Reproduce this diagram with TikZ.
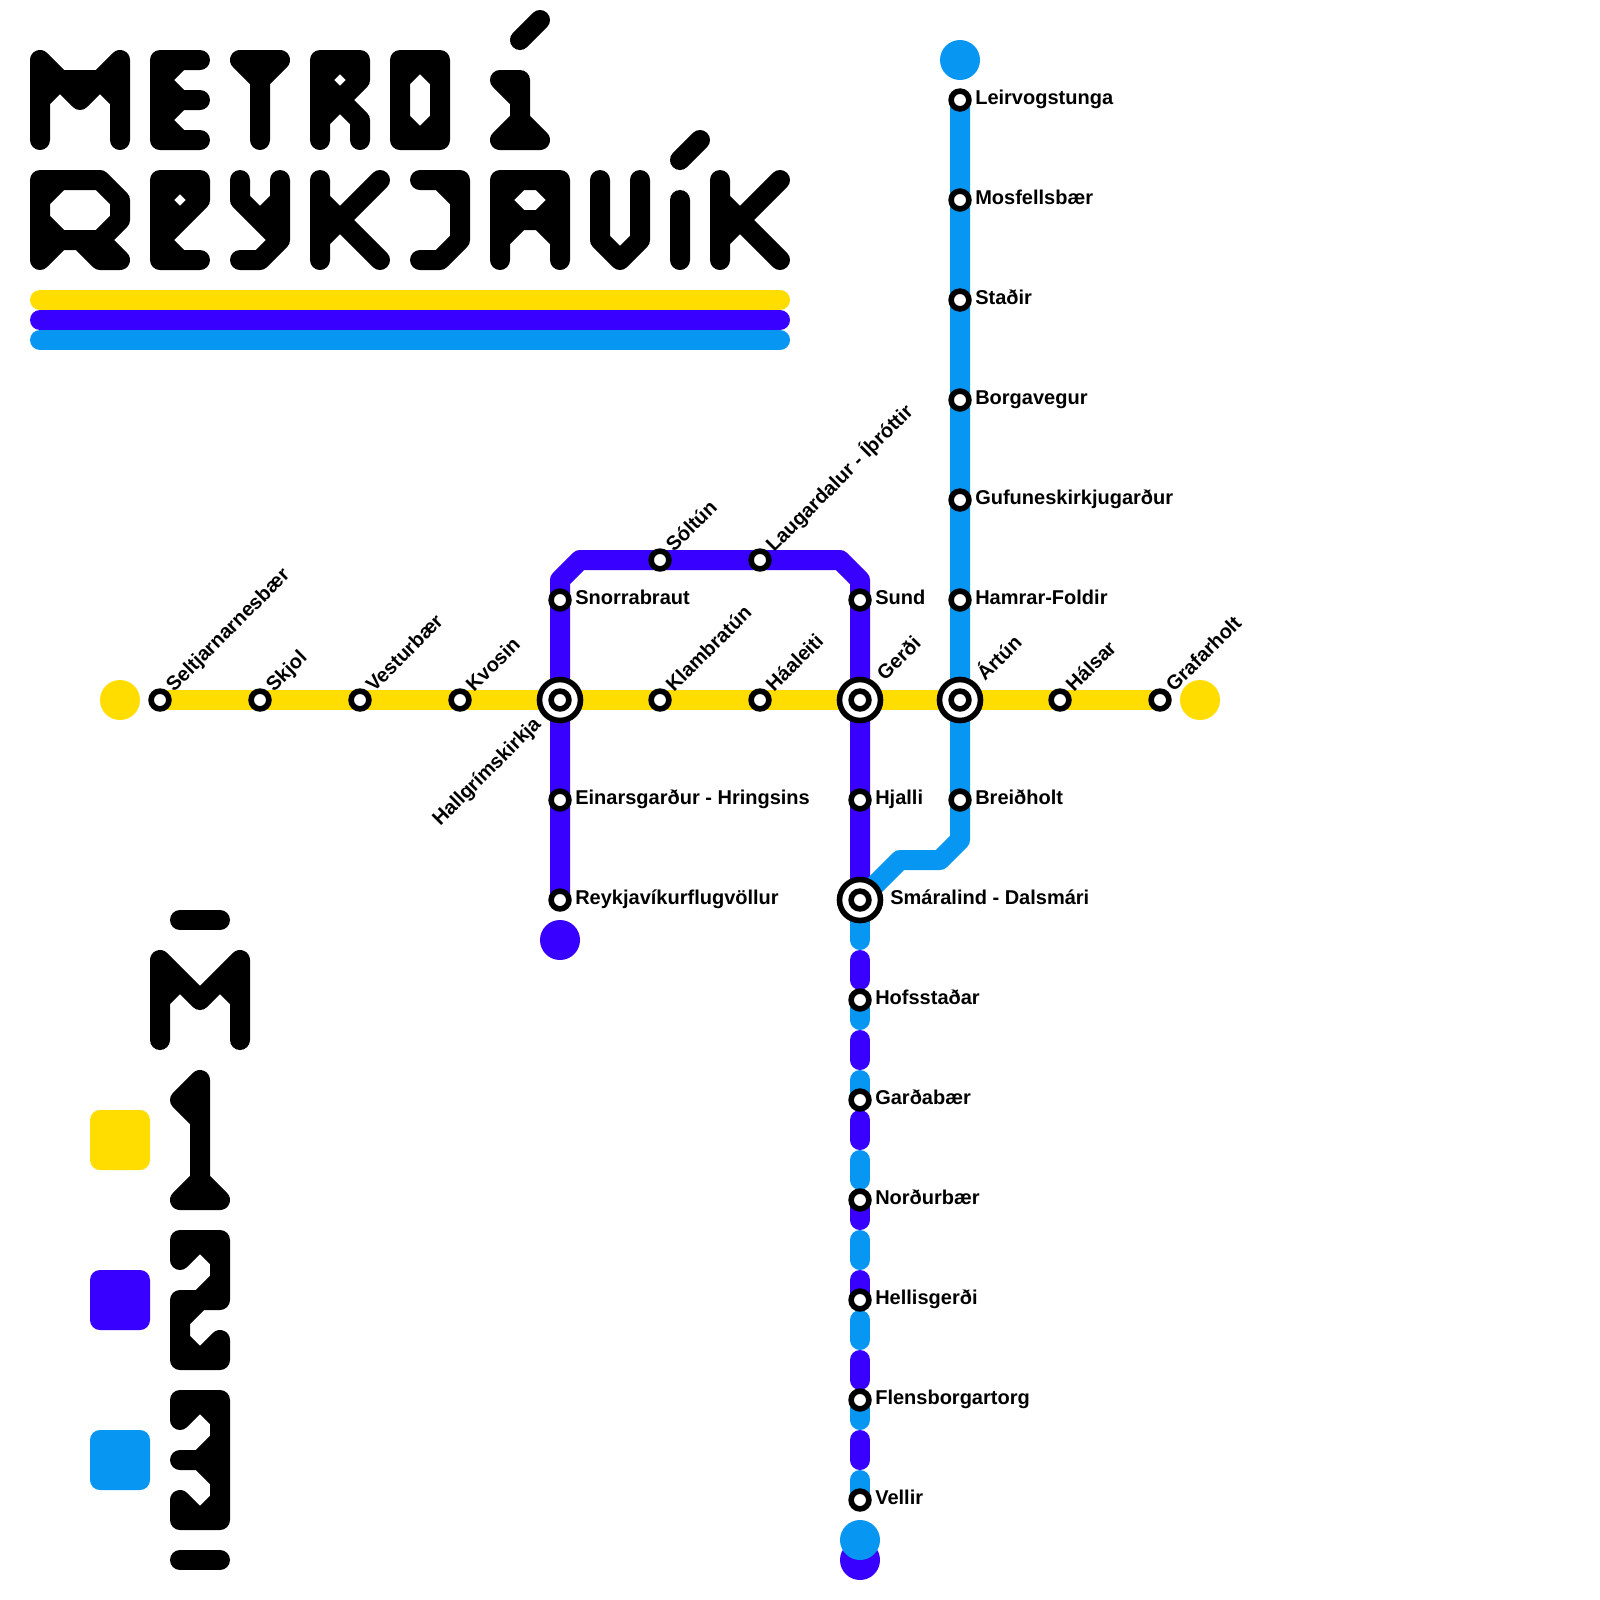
\documentclass[tikz,border=0pt]{standalone}
\usepackage{fontspec}
\usepackage{xcolor}
\usepackage{tikz}
\usetikzlibrary{backgrounds}
\setmainfont{Liberation Sans}
\definecolor{lineone}{HTML}{FFDD00}
\definecolor{linetwo}{HTML}{3700FF}
\definecolor{linethree}{HTML}{0797F2}

\begin{document}
\begin{tikzpicture}[x=5mm,y=-5mm]
  \tikzstyle{glyph} = [draw, line width=5mm, line cap=round, line join=round]
  \tikzstyle{track} = [draw, line width=5mm, line cap=round, line join=round]
  \tikzstyle{stop} = [circle, draw, fill=white, line width=1.4mm, inner sep=0pt, minimum size=4.45mm]
  \tikzstyle{hub} = [circle, draw, fill=white, line width=1.4mm, inner sep=0pt, minimum size=10.25mm]
  \tikzstyle{terminus} = [circle, inner sep=0pt, minimum size=10mm]
  \tikzstyle{swatch} = [rectangle, rounded corners=2.5mm, inner sep=0pt, minimum size=15mm]
  \tikzstyle{stopname} = [font=\fontsize{14.23}{17}\selectfont\bfseries, inner sep=0pt, anchor=base west]
  \tikzstyle{slantname} = [stopname, rotate=45]

  \useasboundingbox (0,0) rectangle (80,80);

  % Title, first row
  \draw[glyph] (2,7) -- (2,3) -- (4,5) -- (6,3) -- (6,7) (2,5) -- (3,4) -- (5,4) -- (6,5) (3,4) -- (4,5) -- (5,4);
  \draw[glyph] (10,3) -- (9,3) -- (8,4) -- (9,5) -- (10,5) -- (9,5) -- (8,6) -- (9,7) -- (10,7) -- (8,7) -- (8,3) -- (10,3);
  \draw[glyph] (13,7) -- (13,4) -- (12,3) -- (14,3) -- (13,4);
  \draw[glyph] (16,7) -- (16,3) -- (18,3) -- (18,4) -- (17,5) -- (18,6) -- (18,7) (16,6) -- (17,5) -- (16,4) -- (17,3) -- (18,4);
  \draw[glyph] (20,3) -- (22,3) -- (22,7) -- (20,7) -- cycle (21,3) -- (22,4) (22,6) -- (21,7) -- (20,6) (20,4) -- (21,3);
  \draw[glyph] (26,2) -- (27,1);
  \draw[glyph] (25,4) -- (26,4) -- (26,7) (25,4) -- (26,5) (26,6) -- (25,7) -- (27,7) -- cycle;

  % Title, second row
  \draw[glyph] (2,13) -- (2,9) -- (5,9) -- (6,10) -- (6,11) -- (5,12) -- (3,12) -- (2,11) (2,10) -- (3,9) (2,13) -- (3,12) (4,12) -- (5,13) -- (6,13) -- (5,12);
  \draw[glyph] (10,13) -- (8,13) -- (8,9) -- (10,9) -- (10,10) -- (8,12) -- (9,13) (10,10) -- (9,9) -- (8,10) -- (9,11);
  \draw[glyph] (12,9) -- (12,10) -- (14,12) -- (13,13) -- (12,13) (14,9) -- (14,12) (14,10) -- (13,11);
  \draw[glyph] (16,9) -- (16,13) (16,10) -- (17,11) -- (19,9) (16,12) -- (17,11) -- (19,13);
  \draw[glyph] (21,9) -- (23,9) -- (23,12) -- (22,13) -- (21,13) (22,9) -- (23,10);
  \draw[glyph] (25,13) -- (25,9) -- (28,9) -- (28,13) (25,10) -- (26,9) (27,9) -- (28,10) (25,10) -- (26,11) -- (27,11) -- (28,10) (25,12) -- (26,11) (27,11) -- (28,12);
  \draw[glyph] (30,9) -- (30,12) -- (31,13) -- (32,12) -- (32,9);
  \draw[glyph] (34,8) -- (35,7) (34,10) -- (34,13);
  \draw[glyph] (36,9) -- (36,13) (36,10) -- (37,11) -- (39,9) (36,12) -- (37,11) -- (39,13);

  % Bars under the title
  \draw[glyph, lineone] (2,15) -- (39,15);
  \draw[glyph, linetwo] (2,16) -- (39,16);
  \draw[glyph, linethree] (2,17) -- (39,17);

  % Legend
  \draw[glyph] (9,46) -- (11,46);
  \draw[glyph] (8,52) -- (8,48) -- (10,50) -- (12,48) -- (12,52) (8,50) -- (9,49) -- (10,50) -- (11,49) -- (12,50);
  \draw[glyph] (10,60) -- (10,54) -- (9,55) -- (10,56) (10,59) -- (9,60) -- (11,60) -- cycle;
  \draw[glyph] (9,63) -- (10,62) -- (11,63) -- (11,64) -- (10,65) (9,63) -- (9,62) -- (11,62) -- (11,65) -- (9,65) -- (9,68) -- (11,68) -- (11,67) -- (10,68) -- (9,67) -- (9,66) -- (10,65);
  \draw[glyph] (9,71) -- (9,70) -- (11,70) -- (11,76) -- (9,76) -- (9,75) -- (10,76) -- (11,75) -- (11,74) -- (10,73) -- (9,73) -- (10,73) -- (11,72) -- (11,71) -- (10,70) -- (9,71);
  \draw[glyph] (9,78) -- (11,78);
  \node[swatch, fill=lineone] (keyone) at (6,57) {};
  \node[swatch, fill=linetwo] (keytwo) at (6,65) {};
  \node[swatch, fill=linethree] (keythree) at (6,73) {};

  % Termini
  \node[terminus, fill=lineone] (endwest) at (6,35) {};
  \node[terminus, fill=lineone] (endeast) at (60,35) {};
  \node[terminus, fill=linetwo] (endflug) at (28,47) {};
  \node[terminus, fill=linethree] (endleir) at (48,3) {};
  \node[terminus, fill=linetwo] (endvellirtwo) at (43,78) {};
  \node[terminus, fill=linethree] (endvellirthree) at (43,77) {};

  % Line 1
  \node[stop] (selt) at (8,35) {};
  \node[stop] (skjol) at (13,35) {};
  \node[stop] (vest) at (18,35) {};
  \node[stop] (kvos) at (23,35) {};
  \node[hub] (hallring) at (28,35) {};
  \node[stop] (hall) at (28,35) {};
  \node[stop] (klam) at (33,35) {};
  \node[stop] (haal) at (38,35) {};
  \node[hub] (gerdring) at (43,35) {};
  \node[stop] (gerd) at (43,35) {};
  \node[hub] (artring) at (48,35) {};
  \node[stop] (art) at (48,35) {};
  \node[stop] (hals) at (53,35) {};
  \node[stop] (graf) at (58,35) {};

  % Line 2
  \node[stop] (snor) at (28,30) {};
  \coordinate (snorbend) at (28,29);
  \coordinate (soltbend) at (29,28);
  \node[stop] (solt) at (33,28) {};
  \node[stop] (laug) at (38,28) {};
  \coordinate (laugbend) at (42,28);
  \coordinate (sundbend) at (43,29);
  \node[stop] (sund) at (43,30) {};
  \node[stop] (einar) at (28,40) {};
  \node[stop] (flug) at (28,45) {};
  \node[stop] (hjal) at (43,40) {};
  \node[hub] (smarring) at (43,45) {};
  \node[stop] (smar) at (43,45) {};

  % Line 3
  \node[stop] (leir) at (48,5) {};
  \node[stop] (mosf) at (48,10) {};
  \node[stop] (stad) at (48,15) {};
  \node[stop] (borg) at (48,20) {};
  \node[stop] (gufu) at (48,25) {};
  \node[stop] (hamr) at (48,30) {};
  \node[stop] (breid) at (48,40) {};
  \coordinate (breidbend) at (48,42);
  \coordinate (hopa) at (47,43);
  \coordinate (hopb) at (45,43);

  % Shared stretch
  \node[stop] (hofs) at (43,50) {};
  \node[stop] (gard) at (43,55) {};
  \node[stop] (nord) at (43,60) {};
  \node[stop] (hell) at (43,65) {};
  \node[stop] (flen) at (43,70) {};
  \node[stop] (vell) at (43,75) {};

  \begin{scope}[on background layer]
    \draw[track, lineone] (selt.center) -- (skjol.center) -- (vest.center) -- (kvos.center) -- (hall.center) -- (klam.center) -- (haal.center) -- (gerd.center) -- (art.center) -- (hals.center) -- (graf.center);
    \draw[track, linetwo] (flug.center) -- (einar.center) -- (hall.center) -- (snor.center) -- (snorbend) -- (soltbend) -- (solt.center) -- (laug.center) -- (laugbend) -- (sundbend) -- (sund.center) -- (gerd.center) -- (hjal.center) -- (smar.center);
    \draw[track, linethree] (leir.center) -- (mosf.center) -- (stad.center) -- (borg.center) -- (gufu.center) -- (hamr.center) -- (art.center) -- (breid.center) -- (breidbend) -- (hopa) -- (hopb) -- (smar.center);
    \draw[track, linethree, dash pattern=on 5mm off 15mm, dash phase=15mm] (smar.center) -- (vell.center);
    \draw[track, linetwo, dash pattern=on 5mm off 15mm, dash phase=5mm] (smar.center) -- (vell.center);
  \end{scope}

  % Names beside the stops
  \node[stopname] (leirname) at (48.75,5.22) {Leirvogstunga};
  \node[stopname] (mosfname) at (48.75,10.22) {Mosfellsbær};
  \node[stopname] (stadname) at (48.75,15.22) {Staðir};
  \node[stopname] (borgname) at (48.75,20.22) {Borgavegur};
  \node[stopname] (gufuname) at (48.75,25.22) {Gufuneskirkjugarður};
  \node[stopname] (hamrname) at (48.75,30.22) {Hamrar-Foldir};
  \node[stopname] (breidname) at (48.75,40.22) {Breiðholt};
  \node[stopname] (snorname) at (28.75,30.22) {Snorrabraut};
  \node[stopname] (einarname) at (28.75,40.22) {Einarsgarður - Hringsins};
  \node[stopname] (flugname) at (28.75,45.22) {Reykjavíkurflugvöllur};
  \node[stopname] (sundname) at (43.75,30.22) {Sund};
  \node[stopname] (hjalname) at (43.75,40.22) {Hjalli};
  \node[stopname] (smarname) at (44.5,45.22) {Smáralind - Dalsmári};
  \node[stopname] (hofsname) at (43.75,50.22) {Hofsstaðar};
  \node[stopname] (gardname) at (43.75,55.22) {Garðabær};
  \node[stopname] (nordname) at (43.75,60.22) {Norðurbær};
  \node[stopname] (hellname) at (43.75,65.22) {Hellisgerði};
  \node[stopname] (flenname) at (43.75,70.22) {Flensborgartorg};
  \node[stopname] (vellname) at (43.75,75.22) {Vellir};

  % Slanted names
  \node[slantname] (seltname) at (8.7,34.65) {Seltjarnarnesbær};
  \node[slantname] (skjolname) at (13.7,34.65) {Skjol};
  \node[slantname] (vestname) at (18.7,34.65) {Vesturbær};
  \node[slantname] (kvosname) at (23.7,34.65) {Kvosin};
  \node[slantname] (klamname) at (33.7,34.65) {Klambratún};
  \node[slantname] (haalname) at (38.7,34.65) {Háaleiti};
  \node[slantname] (halsname) at (53.7,34.65) {Hálsar};
  \node[slantname] (grafname) at (58.7,34.65) {Grafarholt};
  \node[slantname] (soltname) at (33.7,27.65) {Sóltún};
  \node[slantname] (laugname) at (38.7,27.65) {Laugardalur - Íþróttir};
  \node[slantname] (gerdname) at (44.25,34.1) {Gerði};
  \node[slantname] (artname) at (49.25,34.1) {Ártún};
  \node[slantname, anchor=base east] (hallname) at (27.1,36.25) {Hallgrímskirkja};
\end{tikzpicture}
\end{document}
